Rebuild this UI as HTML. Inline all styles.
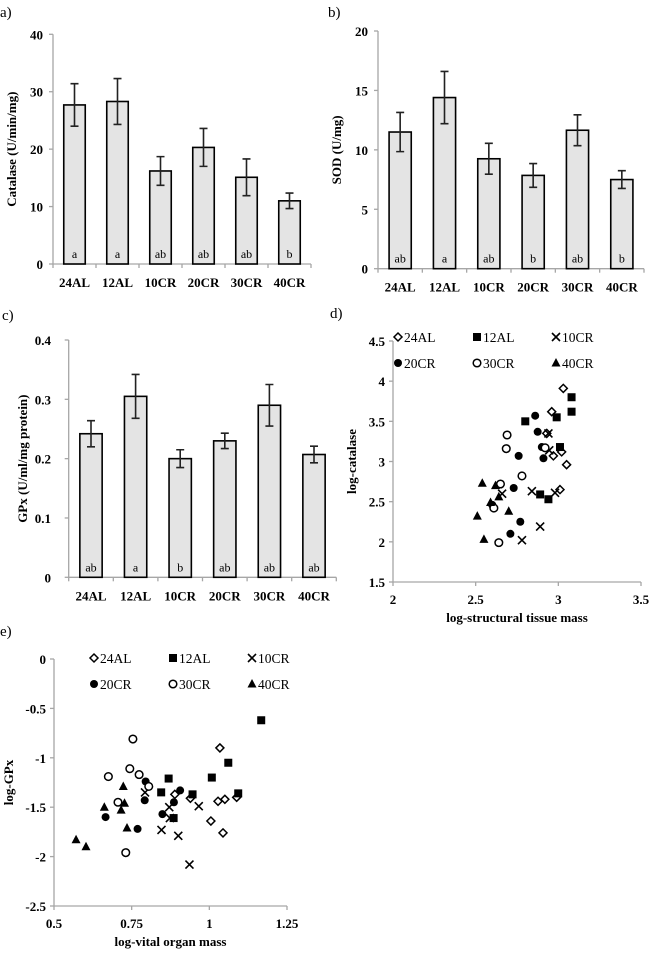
<!DOCTYPE html>
<html><head><meta charset="utf-8"><style>
html,body{margin:0;padding:0;background:#fff;}
svg{display:block;font-family:"Liberation Serif",serif;}
</style></head><body>
<svg id="fig" width="650" height="954" viewBox="0 0 650 954" xmlns="http://www.w3.org/2000/svg"></svg>
<script>
const groups = ["24AL","12AL","10CR","20CR","30CR","40CR"];
const catalaseVals = [27.7,28.3,16.2,20.3,15.1,11.0];
const catalaseErr = [3.7,4.0,2.5,3.3,3.2,1.35];
const catalaseLetters = ["a","a","ab","ab","ab","b"];
const catalaseTicks = [0,10,20,30,40];
const sodVals = [11.5,14.4,9.25,7.85,11.65,7.5];
const sodErr = [1.65,2.2,1.3,1.0,1.3,0.75];
const sodLetters = ["ab","a","ab","b","ab","b"];
const sodTicks = [0,5,10,15,20];
const gpxVals = [0.242,0.305,0.200,0.230,0.290,0.207];
const gpxErr = [0.022,0.037,0.015,0.013,0.035,0.014];
const gpxLetters = ["ab","a","b","ab","ab","ab"];
const gpxTicks = [0,0.1,0.2,0.3,0.4];

const dX = {
"24AL":[3.03,2.96,2.97,3.02,3.05,3.01,2.93],
"12AL":[3.08,3.08,2.99,2.80,3.01,2.89,2.94],
"10CR":[2.94,2.945,2.84,2.98,2.89,2.78,2.66],
"20CR":[2.86,2.875,2.90,2.91,2.76,2.73,2.77,2.71,2.60],
"30CR":[2.69,2.685,2.78,2.65,2.61,2.64,2.92],
"40CR":[2.54,2.62,2.64,2.59,2.70,2.51,2.55]};
const dY = {
"24AL":[3.91,3.62,3.07,3.12,2.96,2.65,3.35],
"12AL":[3.80,3.62,3.55,3.50,3.18,2.59,2.53],
"10CR":[3.35,3.14,2.63,2.61,2.19,2.02,2.60],
"20CR":[3.57,3.37,3.18,3.04,3.07,2.67,2.25,2.10,2.46],
"30CR":[3.33,3.16,2.82,2.72,2.42,1.99,3.17],
"40CR":[2.73,2.70,2.56,2.49,2.38,2.32,2.03]};
const dXTicks = [2,2.5,3,3.5];
const dYTicks = [1.5,2,2.5,3,3.5,4,4.5];

const eX = {
"24AL":[1.034,1.028,1.050,1.088,1.005,1.044,0.939,0.889],
"12AL":[1.167,1.061,1.008,0.869,0.845,0.946,1.093,0.885],
"10CR":[0.793,0.871,0.873,0.966,0.846,0.900,0.936],
"20CR":[0.795,0.792,0.906,0.886,0.849,0.769,0.666],
"30CR":[0.754,0.744,0.774,0.805,0.675,0.706,0.731],
"40CR":[0.723,0.662,0.727,0.716,0.735,0.571,0.603]};
const eY = {
"24AL":[-0.90,-1.44,-1.42,-1.40,-1.64,-1.76,-1.41,-1.37],
"12AL":[-0.62,-1.05,-1.20,-1.21,-1.35,-1.37,-1.36,-1.61],
"10CR":[-1.35,-1.50,-1.61,-1.49,-1.73,-1.79,-2.08],
"20CR":[-1.24,-1.43,-1.33,-1.45,-1.57,-1.72,-1.60],
"30CR":[-0.81,-1.11,-1.17,-1.29,-1.19,-1.45,-1.96],
"40CR":[-1.29,-1.50,-1.46,-1.53,-1.71,-1.83,-1.90]};
const eXTicks = [0.5,0.75,1,1.25];
const eYTicks = [-2.5,-2,-1.5,-1,-0.5,0];

const NS="http://www.w3.org/2000/svg";
const svg=document.getElementById('fig');
function mk(tag,attrs,parent){const e=document.createElementNS(NS,tag);for(const k in attrs)e.setAttribute(k,attrs[k]);(parent||svg).appendChild(e);return e;}
function txt(s,x,y,size,weight,anchor,parent,rot){const t=mk('text',{x:x,y:y,'font-size':size,'font-weight':weight,'text-anchor':anchor,fill:'#000'},parent);if(rot)t.setAttribute('transform','rotate(-90 '+x+' '+y+')');t.textContent=s;return t;}
const AX='#a6a6a6';

function barChart(name,label,lx,ly,x0,x1,yTop,yBot,ticks,vals,errs,letters,title,titleX,tickRight){
  const g=mk('g',{});
  
  
  const pl=txt(label,lx,ly,15,'normal','start',g);
  
  
  const maxT=ticks[ticks.length-1];
  const ys=v=>yBot-(v/maxT)*(yBot-yTop);
  const cw=(x1-x0)/groups.length;
  const yl=mk('line',{x1:x0,y1:yTop,x2:x0,y2:yBot,stroke:AX,'stroke-width':1.3},g);
  
  
  const xl=mk('line',{x1:x0,y1:yBot,x2:x1,y2:yBot,stroke:AX,'stroke-width':1.3},g);
  
  
  ticks.forEach(t=>{
    mk('line',{x1:x0-4,y1:ys(t),x2:x0,y2:ys(t),stroke:AX,'stroke-width':1.3},g);
    const tl=txt(String(t),tickRight,ys(t)+5,13,'bold','end',g);
    
    
  });
  for(let i=0;i<=groups.length;i++) mk('line',{x1:x0+i*cw,y1:yBot,x2:x0+i*cw,y2:yBot+4,stroke:AX,'stroke-width':1.3},g);
  groups.forEach((c,i)=>{
    const cx=x0+(i+0.5)*cw, bw=cw*0.5;
    const b=mk('rect',{x:cx-bw/2,y:ys(vals[i]),width:bw,height:yBot-ys(vals[i]),fill:'#e4e4e4',stroke:'#000','stroke-width':1.6},g);
    
    
    const hi=ys(vals[i]+errs[i]), lo=ys(vals[i]-errs[i]);
    const eb=mk('path',{d:`M${cx},${hi}V${lo}M${cx-4},${hi}H${cx+4}M${cx-4},${lo}H${cx+4}`,stroke:'#222','stroke-width':1.6,fill:'none'},g);
    
    
    const lt=txt(letters[i],cx,yBot-6,12,'normal','middle',g);
    
    
    const cl=txt(c,cx,yBot+23,13,'bold','middle',g);
    
    
  });
  const tt=txt(title,titleX,(yTop+yBot)/2,13,'bold','middle',g,true);
  
  
}
barChart('catalase-chart','a)',0,17,53,311,34.3,264,catalaseTicks,catalaseVals,catalaseErr,catalaseLetters,'Catalase (U/min/mg)',16,43);
barChart('sod-chart','b)',328,17,378,644,31,268.7,sodTicks,sodVals,sodErr,sodLetters,'SOD (U/mg)',341,368);
barChart('gpx-chart','c)',2,320,68.7,336.3,340,577.3,gpxTicks,gpxVals,gpxErr,gpxLetters,'GPx (U/ml/mg protein)',27,51);

function marker(type,x,y,g){
  let e;
  if(type==="24AL") e=mk('path',{d:`M${x},${y-4}L${x+4},${y}L${x},${y+4}L${x-4},${y}Z`,fill:'#fff',stroke:'#000','stroke-width':1.5},g);
  else if(type==="12AL") e=mk('rect',{x:x-4,y:y-4,width:8,height:8,fill:'#000'},g);
  else if(type==="10CR") e=mk('path',{d:`M${x-4},${y-4}L${x+4},${y+4}M${x-4},${y+4}L${x+4},${y-4}`,stroke:'#000','stroke-width':1.6},g);
  else if(type==="20CR") e=mk('circle',{cx:x,cy:y,r:4,fill:'#000'},g);
  else if(type==="30CR") e=mk('circle',{cx:x,cy:y,r:3.8,fill:'#fff',stroke:'#000','stroke-width':1.5},g);
  else e=mk('path',{d:`M${x},${y-5}L${x+4.5},${y+3.5}L${x-4.5},${y+3.5}Z`,fill:'#000'},g);
  return e;
}

function scatter(name,label,lx,ly,x0,x1,yTop,yBot,xT,yT,X,Y,xtitle,ytitle,ytX,tickRight,fmt,legX,legY){
  const g=mk('g',{});
  
  
  const pl=txt(label,lx,ly,15,'normal','start',g);
  
  
  const xmin=xT[0],xmax=xT[xT.length-1],ymin=yT[0],ymax=yT[yT.length-1];
  const xs=v=>x0+(v-xmin)/(xmax-xmin)*(x1-x0);
  const ys=v=>yBot-(v-ymin)/(ymax-ymin)*(yBot-yTop);
  const yl=mk('line',{x1:x0,y1:yTop,x2:x0,y2:yBot,stroke:AX,'stroke-width':1.3},g);
  
  
  const xl=mk('line',{x1:x0,y1:yBot,x2:x1,y2:yBot,stroke:AX,'stroke-width':1.3},g);
  
  
  yT.forEach(t=>{
    mk('line',{x1:x0-4,y1:ys(t),x2:x0,y2:ys(t),stroke:AX,'stroke-width':1.3},g);
    const tl=txt(String(t),tickRight,ys(t)+5,13,'bold','end',g);
    
    
  });
  xT.forEach(t=>{
    mk('line',{x1:xs(t),y1:yBot,x2:xs(t),y2:yBot+4,stroke:AX,'stroke-width':1.3},g);
    const tl=txt(String(t),xs(t),yBot+22,13,'bold','middle',g);
    
    
  });
  groups.forEach(c=>{
    X[c].forEach((v,i)=>{
      const m=marker(c,xs(v),ys(Y[c][i]),g);
      
      
    });
  });
  groups.forEach((c,i)=>{
    const lxp=legX+(i%3)*79, lyp=legY+Math.floor(i/3)*26;
    const m=marker(c,lxp,lyp,g);
    
    
    const lt=txt(c,lxp+6,lyp+5,13.5,'normal','start',g);
    
    
  });
  const xt=txt(xtitle,(x0+x1)/2,yBot+40,13,'bold','middle',g);
  
  
  const yt=txt(ytitle,ytX,(yTop+yBot)/2,13,'bold','middle',g,true);
  
  
}
scatter('catalase-scatter','d)',330,318,393,641,341,582,dXTicks,dYTicks,dX,dY,'log-structural tissue mass','log-catalase',356,385,null,398,337);
scatter('gpx-scatter','e)',0,636,54,287,659,906,eXTicks,eYTicks,eX,eY,'log-vital organ mass','log-GPx',13,46,null,94,658);
</script>
</body></html>
